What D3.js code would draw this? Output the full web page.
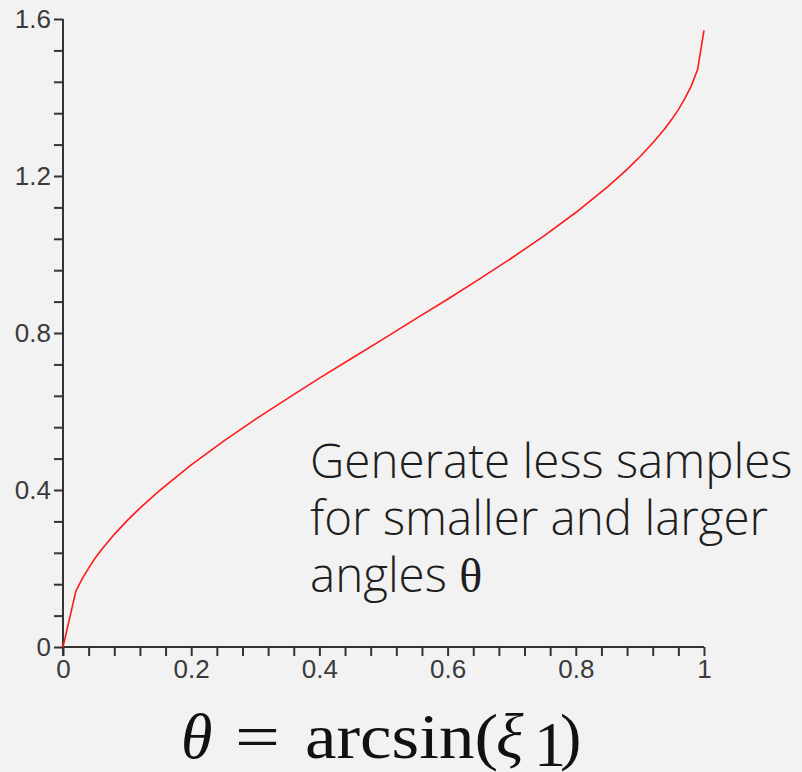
<!DOCTYPE html>
<html>
<head>
<meta charset="utf-8">
<script src="https://cdn.jsdelivr.net/npm/d3@7"></script>
<style>
  html, body { margin: 0; padding: 0; background: #f2f2f2; }
  .tick-label { font-family: "Liberation Sans", sans-serif; font-size: 26px; fill: #3a3a3a; }
  .note { font-family: "Open Sans", sans-serif; font-weight: 300; font-size: 47.5px; fill: #1e1e1e; }
  .formula { font-family: "Liberation Serif", serif; font-size: 64px; fill: #111; }
</style>
</head>
<body>
<div id="chart"></div>
<script>
var svgWidth = 802;
var svgHeight = 772;

var margin = { top: 19, right: 98, bottom: 125, left: 63 };
var width = svgWidth - margin.left - margin.right;
var height = svgHeight - margin.top - margin.bottom;

// values
var xi = [0, 0.02, 0.03, 0.04, 0.05, 0.06, 0.08, 0.10, 0.12, 0.15, 0.20, 0.25, 0.30, 0.35,
  0.40, 0.45, 0.50, 0.55, 0.60, 0.65, 0.70, 0.75, 0.80, 0.85, 0.88, 0.90, 0.92, 0.94,
  0.95, 0.96, 0.97, 0.98, 0.99, 1.0];
var theta = [0, 0.142, 0.174, 0.201, 0.226, 0.248, 0.287, 0.322, 0.354, 0.398, 0.464, 0.524,
  0.580, 0.633, 0.685, 0.735, 0.785, 0.836, 0.886, 0.938, 0.991, 1.047, 1.107, 1.173, 1.217,
  1.249, 1.284, 1.323, 1.345, 1.369, 1.397, 1.429, 1.471, 1.571];

var xMajor = [0, 0.2, 0.4, 0.6, 0.8, 1];
var xTickLabels = ["0", "0.2", "0.4", "0.6", "0.8", "1"];
var yMajor = [0, 0.4, 0.8, 1.2, 1.6];
var yTickLabels = ["0", "0.4", "0.8", "1.2", "1.6"];

var noteLines = ["Generate less samples", "for smaller and larger", "angles "];

var svg = d3.select("#chart")
  .append("svg")
  .attr("width", svgWidth)
  .attr("height", svgHeight);

var chartGroup = svg.append("g")
  .attr("transform", `translate(${margin.left}, ${margin.top})`);

var xScale = d3.scaleLinear().domain([0, 1]).range([0, width]);
var yScale = d3.scaleLinear().domain([0, 1.6]).range([height, 0]);

var xMinor = d3.range(0, 26).map(i => i * 0.04);
var yMinor = d3.range(0, 21).map(i => i * 0.08);

var bottomAxis = d3.axisBottom(xScale)
  .tickValues(xMinor)
  .tickSize(9)
  .tickFormat(d => {
    var k = xMajor.findIndex(m => Math.abs(m - d) < 1e-9);
    return k >= 0 ? xTickLabels[k] : "";
  })
  .tickPadding(4);

var leftAxis = d3.axisLeft(yScale)
  .tickValues(yMinor)
  .tickSize(9)
  .tickFormat(d => {
    var k = yMajor.findIndex(m => Math.abs(m - d) < 1e-9);
    return k >= 0 ? yTickLabels[k] : "";
  })
  .tickPadding(3);

var xAxisG = chartGroup.append("g")
  .attr("transform", `translate(0, ${height})`)
  .call(bottomAxis);

var yAxisG = chartGroup.append("g")
  .call(leftAxis);

[xAxisG, yAxisG].forEach(function(g) {
  g.attr("font-size", null).attr("font-family", null);
  g.select(".domain").attr("stroke", "#333").attr("stroke-width", 2);
  g.selectAll(".tick line").attr("stroke", "#333").attr("stroke-width", 2);
  g.selectAll(".tick text").attr("class", "tick-label");
});
xAxisG.select(".domain").attr("d", `M0,0H${width}`);
yAxisG.select(".domain").attr("d", `M0,${height + 9}V0`);

var line = d3.line()
  .x((d, i) => xScale(xi[i]))
  .y(d => yScale(d));

chartGroup.append("path")
  .datum(theta)
  .attr("d", line)
  .attr("fill", "none")
  .attr("stroke", "#ff1a1a")
  .attr("stroke-width", 1.6);

var note = svg.append("text").attr("class", "note");
note.selectAll("tspan.ln")
  .data(noteLines)
  .enter()
  .append("tspan")
  .attr("class", "ln")
  .attr("x", 310)
  .attr("y", (d, i) => 478 + i * 57)
  .text(d => d);
note.append("tspan")
  .attr("font-family", "Liberation Serif, serif")
  .attr("font-weight", 400)
  .attr("font-size", 48)
  .text("θ");

// θ = arcsin(ξ1)
var fy = 758;
svg.append("text").attr("class", "formula").attr("x", 181).attr("y", fy)
  .attr("font-style", "italic").text("θ");
svg.append("text").attr("class", "formula").attr("x", 235).attr("y", fy)
  .attr("textLength", 45).attr("lengthAdjust", "spacingAndGlyphs").text("=");
svg.append("text").attr("class", "formula").attr("x", 305).attr("y", fy)
  .attr("textLength", 193).attr("lengthAdjust", "spacingAndGlyphs").text("arcsin(");
svg.append("text").attr("class", "formula").attr("x", 496).attr("y", fy)
  .attr("font-style", "italic").text("ξ");
svg.append("text").attr("class", "formula").attr("x", 534).attr("y", 766)
  .attr("font-size", 40).text("1");
svg.append("text").attr("class", "formula").attr("x", 560).attr("y", fy)
  .text(")");
</script>
</body>
</html>
